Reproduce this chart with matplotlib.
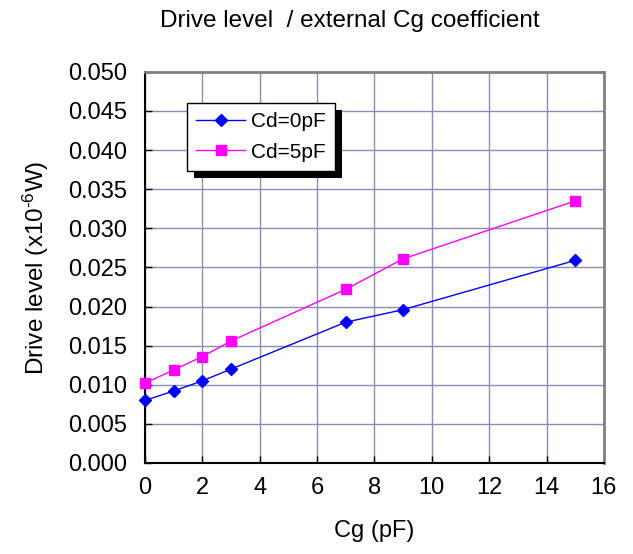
import numpy as np
import matplotlib
matplotlib.use('Agg')
import matplotlib.pyplot as plt
import matplotlib.patheffects as pe

plt.rcParams['font.family'] = ['Liberation Sans', 'DejaVu Sans']
plt.rcParams['mathtext.default'] = 'regular'

# data
cg = [0, 1, 2, 3, 7, 9, 15]
drive_cd0 = [0.0080, 0.0092, 0.0105, 0.0120, 0.0180, 0.0196, 0.0259]
drive_cd5 = [0.0102, 0.0119, 0.0136, 0.0156, 0.0222, 0.0261, 0.0335]
series_labels = ['Cd=0pF', 'Cd=5pF']
x_ticks = np.arange(0, 17, 2)
y_ticks = np.arange(0, 0.0501, 0.005)

fs = 17

fig = plt.figure(figsize=(6.33, 5.54), dpi=100)
ax = fig.add_axes([0.229, 0.1643, 0.725, 0.706])

ax.plot(cg, drive_cd0, color='#0000ff', lw=1, marker='D', ms=6.5,
        label=series_labels[0], clip_on=False, zorder=3)
ax.plot(cg, drive_cd5, color='#ff00ff', lw=1, marker='s', ms=7.5,
        label=series_labels[1], clip_on=False, zorder=3)

ax.set_xlim(0, 16)
ax.set_ylim(0, 0.05)
ax.set_xticks(x_ticks)
ax.set_yticks(y_ticks)
ax.set_yticklabels(['%.3f' % v for v in y_ticks])
ax.grid(True, color='#8c8cb4', lw=1)
ax.set_axisbelow(True)

ax.tick_params(direction='in', length=5, width=1, labelsize=fs, pad=13)
ax.tick_params(axis='x', pad=10)
for s in ['top', 'right']:
    ax.spines[s].set_color('#808080')
    ax.spines[s].set_linewidth(2)
for s in ['left', 'bottom']:
    ax.spines[s].set_color('black')
    ax.spines[s].set_linewidth(1.5)

ax.set_xlabel('Cg (pF)', fontsize=fs, labelpad=15)
ax.set_ylabel('Drive level (x10$^{\u2010 6}$W)', fontsize=17.5, labelpad=12)
fig.text(0.552, 0.962, 'Drive level  / external Cg coefficient',
         ha='center', va='center', fontsize=17.5)

leg = ax.legend(loc='upper left', bbox_to_anchor=(0.091, 0.921), fontsize=15,
                fancybox=False, framealpha=1, edgecolor='black',
                handlelength=2.35, handletextpad=0.3, borderpad=0.45,
                labelspacing=0.55, borderaxespad=0)
leg.get_frame().set_linewidth(1)
leg.get_frame().set_path_effects([pe.SimplePatchShadow(offset=(5, -5), shadow_rgbFace='black', alpha=1),
                                  pe.Normal()])

plt.savefig('out.png', dpi=100)
plt.close(fig)
